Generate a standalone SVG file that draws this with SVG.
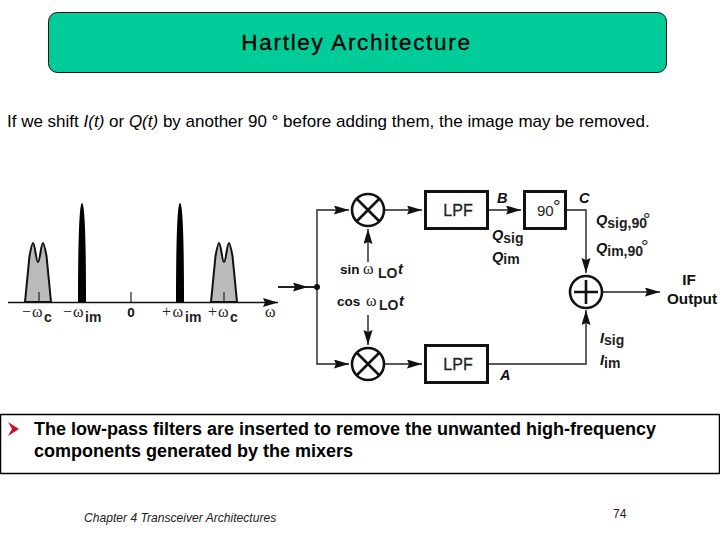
<svg xmlns="http://www.w3.org/2000/svg" width="720" height="540" viewBox="0 0 720 540">
<style>
text{font-family:"Liberation Sans",Arial,sans-serif;fill:#000}
.b{font-weight:bold}
.i{font-style:italic}
.lab{font-size:15.300px;font-weight:bold;fill:#111}
.lo{font-size:13.500px;font-weight:bold;fill:#111}
.li{font-size:14.500px;font-weight:bold;font-style:italic;fill:#111}
.sub{font-size:14px;font-weight:bold;font-style:normal;fill:#222}
.deg{font-size:19px;font-weight:normal;font-style:normal;fill:#222}
.w{font-family:"Liberation Serif",serif;font-size:16px;fill:#222}
.lpf{font-size:16px;fill:#222;stroke:#222;stroke-width:.3}
.box{fill:#fff;stroke:#111;stroke-width:3}
.mix{fill:#fff;stroke:#111;stroke-width:2.600}
.wire{fill:none;stroke:#222;stroke-width:1.400}
.x{fill:none;stroke:#111;stroke-width:2.600}
.hump{fill:#bbb;stroke:#111;stroke-width:2}
</style>
<defs>
<marker id="ah" markerUnits="userSpaceOnUse" markerWidth="16" markerHeight="10" refX="15" refY="4.500" orient="auto"><path d="M0 0L15 4.500L0 9L2 4.500Z" fill="#111"/></marker>
</defs>
<rect width="720" height="540" fill="#fff"/>
<g id="title">
<rect x="48.500" y="12.500" width="618" height="60" rx="9" fill="#00cc99" stroke="#111" stroke-width="1"/>
<text x="356.500" y="50" text-anchor="middle" font-size="24" letter-spacing="1" stroke="#000" stroke-width=".3" style="font-size:22.500px;letter-spacing:1.700px">Hartley Architecture</text>
</g>
<text id="intro" x="7" y="127" font-size="17">If we shift <tspan class="i">I(t)</tspan> or <tspan class="i">Q(t)</tspan> by another 90 ° before adding them, the image may be removed.</text>
<g id="spectrum">
<path class="hump" d="M25 302L29.500 256C31 248 32 243 33 243C35 243 36 262 38 262C40 262 41 243 43 243C44 243 45 248 46.500 256L51 302Z"/>
<path class="hump" d="M211 302L215.500 256C217 248 218 243 219 243C221 243 222 262 224 262C226 262 227 243 229 243C230 243 231 248 232.500 256L237 302Z"/>
<path d="M39 292V302M224 292V302M131 292V302" stroke="#222" stroke-width="1.200" fill="none"/>
<path d="M78 302C78 235 79.500 203 82 203C84.500 203 86 235 86 302Z" fill="#000"/>
<path d="M176 302C176 235 177.500 203 180 203C182.500 203 184 235 184 302Z" fill="#000"/>
<path d="M8 302.500H278" stroke="#111" stroke-width="1.600" marker-end="url(#ah)"/>
<text class="w" x="22" y="317">−<tspan x="32">ω</tspan></text><text class="sub" x="44" y="322">c</text>
<text class="w" x="63" y="317">−<tspan x="73">ω</tspan></text><text class="sub" x="85" y="322">im</text>
<text class="lo" x="131" y="317" text-anchor="middle">0</text>
<text class="w" x="162" y="317">+<tspan x="172.500">ω</tspan></text><text class="sub" x="185" y="322">im</text>
<text class="w" x="208" y="317">+<tspan x="218">ω</tspan></text><text class="sub" x="230" y="322">c</text>
<text class="w" x="265" y="317">ω</text>
</g>
<g id="connectors">
<path class="wire" d="M278 287H317" style="stroke-width:2"/>
<path class="wire" d="M278 287H308" style="stroke-width:2" marker-end="url(#ah)"/>
<path class="wire" d="M317 287V210H349" marker-end="url(#ah)"/>
<path class="wire" d="M317 287V364H349" marker-end="url(#ah)"/>
<path class="wire" d="M368 262V229" marker-end="url(#ah)"/>
<path class="wire" d="M368 315V345" marker-end="url(#ah)"/>
<path class="wire" d="M385 210H422" marker-end="url(#ah)"/>
<path class="wire" d="M385 364H422" marker-end="url(#ah)"/>
<path class="wire" d="M488 210H521" marker-end="url(#ah)"/>
<path class="wire" d="M566 210H586V273" marker-end="url(#ah)"/>
<path class="wire" d="M488 364H586V310" marker-end="url(#ah)"/>
<path class="wire" d="M603 292H660" marker-end="url(#ah)"/>
<circle cx="317" cy="287" r="3" fill="#111"/>
</g>
<g id="mixer-top"><circle class="mix" cx="368" cy="210" r="16"/><path class="x" d="M356.500 198.500L379.500 221.500M379.500 198.500L356.500 221.500"/></g>
<g id="mixer-bottom"><circle class="mix" cx="368" cy="364" r="16"/><path class="x" d="M356.500 352.500L379.500 375.500M379.500 352.500L356.500 375.500"/></g>
<g id="lpf-top"><rect class="box" x="425.500" y="191.500" width="62" height="37"/><text class="lpf" x="458" y="216" text-anchor="middle">LPF</text></g>
<g id="lpf-bottom"><rect class="box" x="425.500" y="345.500" width="62" height="37"/><text class="lpf" x="458" y="370" text-anchor="middle">LPF</text></g>
<g id="phase"><rect class="box" x="524.500" y="191.500" width="41" height="37"/><text x="537" y="216" font-size="15" style="fill:#222">90</text><text class="deg" x="553" y="213">°</text></g>
<g id="adder"><circle class="mix" cx="586" cy="292" r="16"/><path class="x" d="M574 292H598M586 280V304"/></g>
<g id="labels">
<text class="li" x="497" y="203">B</text>
<text class="li" x="579" y="203">C</text>
<text class="li" x="500" y="380">A</text>
<text class="li" x="492" y="240">Q<tspan class="sub" dy="3">sig</tspan></text>
<text class="li" x="492" y="262">Q<tspan class="sub" dy="2">im</tspan></text>
<text class="li" x="596" y="225">Q<tspan class="sub" dy="3">sig,90</tspan></text><text class="deg" x="643" y="226">°</text>
<text class="li" x="596" y="253">Q<tspan class="sub" dy="3">im,90</tspan></text><text class="deg" x="641" y="253">°</text>
<text class="li" x="600" y="343">I<tspan class="sub" dy="2">sig</tspan></text>
<text class="li" x="600" y="365">I<tspan class="sub" dy="3">im</tspan></text>
<text class="lo" x="340" y="274">sin</text><text class="w" x="363" y="274">ω</text><text class="sub" x="378" y="278">LO</text><text class="li" x="398" y="274">t</text>
<text class="lo" x="337" y="306">cos</text><text class="w" x="366" y="306">ω</text><text class="sub" x="379" y="310">LO</text><text class="li" x="399" y="306">t</text>
<text class="lab" x="689" y="285" text-anchor="middle">IF</text>
<text class="lab" x="692" y="304" text-anchor="middle">Output</text>
</g>
<g id="note">
<rect x=".5" y="414.500" width="719" height="59" fill="#fff" stroke="#000" stroke-width="1.500"/>
<polygon points="8,422 19,429 8,436 12,429" fill="#c8102e"/>
<text x="34" y="435" font-size="18" class="b" style="font-size:18px">The low-pass filters are inserted to remove the unwanted high-frequency</text>
<text x="34" y="457" font-size="18" class="b">components generated by the mixers</text>
</g>
<text id="footer" x="84" y="522" font-size="12.100" class="i" style="fill:#222">Chapter 4 Transceiver Architectures</text>
<text id="page" x="613" y="518" font-size="12" style="fill:#222">74</text>
</svg>
